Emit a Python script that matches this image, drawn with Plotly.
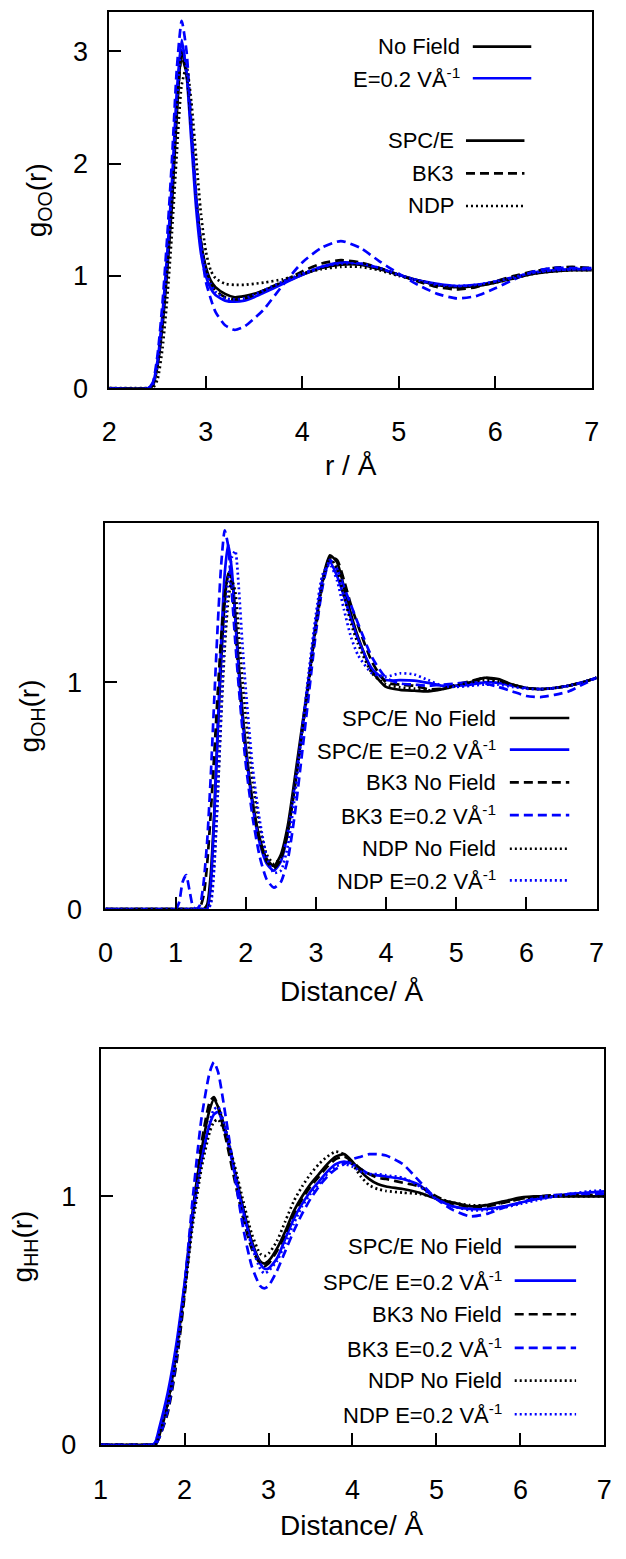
import plotly.graph_objects as go

W, H = 626, 1559

# ---------------- g_OO(r) ----------------
r_oo = [2.0, 2.4, 2.45, 2.5, 2.55, 2.6, 2.65, 2.7, 2.75, 2.8, 2.85, 2.9, 2.95, 3.0, 3.05, 3.1,
        3.2, 3.3, 3.4, 3.5, 3.6, 3.8, 4.0, 4.2, 4.4, 4.6, 4.8, 5.0, 5.2, 5.4, 5.6, 5.8, 6.0,
        6.2, 6.4, 6.6, 6.8, 7.0]
oo_spce_nf = [0, 0, 0.02, 0.2, 0.55, 1.05, 1.65, 2.45, 3.0, 2.8, 2.3, 1.7, 1.3, 1.08, 0.96, 0.9,
              0.84, 0.81, 0.82, 0.84, 0.87, 0.94, 1.01, 1.07, 1.10, 1.10, 1.06, 1.01, 0.96, 0.92,
              0.90, 0.91, 0.94, 0.98, 1.02, 1.04, 1.05, 1.05]
oo_spce_e = [0, 0, 0.04, 0.25, 0.65, 1.2, 1.85, 2.65, 3.1, 2.8, 2.2, 1.6, 1.2, 1.0, 0.89, 0.83,
             0.78, 0.77, 0.78, 0.81, 0.85, 0.93, 1.01, 1.08, 1.12, 1.11, 1.07, 1.01, 0.96, 0.93,
             0.91, 0.92, 0.95, 0.99, 1.03, 1.05, 1.06, 1.06]
oo_bk3_nf = [0, 0, 0.03, 0.22, 0.6, 1.1, 1.75, 2.5, 2.95, 2.8, 2.3, 1.7, 1.3, 1.06, 0.94, 0.87,
             0.81, 0.79, 0.8, 0.83, 0.87, 0.95, 1.04, 1.11, 1.14, 1.12, 1.07, 1.01, 0.95, 0.9,
             0.88, 0.9, 0.95, 1.0, 1.04, 1.07, 1.08, 1.07]
oo_bk3_e = [0, 0, 0.05, 0.3, 0.75, 1.35, 2.05, 2.85, 3.27, 3.0, 2.35, 1.7, 1.25, 0.95, 0.8, 0.68,
            0.56, 0.52, 0.55, 0.62, 0.7, 0.92, 1.12, 1.25, 1.31, 1.25, 1.13, 1.02, 0.92, 0.84,
            0.80, 0.82, 0.89, 0.97, 1.04, 1.07, 1.07, 1.07]
oo_ndp_nf = [0, 0, 0, 0.08, 0.35, 0.8, 1.4, 2.1, 2.7, 2.86, 2.55, 2.05, 1.55, 1.22, 1.05, 0.98,
             0.93, 0.92, 0.92, 0.93, 0.94, 0.97, 1.02, 1.06, 1.08, 1.08, 1.05, 1.0, 0.96, 0.92,
             0.90, 0.91, 0.94, 0.98, 1.02, 1.04, 1.05, 1.05]
oo_ndp_e = [0, 0, 0.03, 0.22, 0.6, 1.12, 1.78, 2.55, 3.05, 2.85, 2.3, 1.7, 1.28, 1.05, 0.93, 0.86,
            0.8, 0.79, 0.8, 0.83, 0.87, 0.95, 1.02, 1.08, 1.11, 1.11, 1.07, 1.01, 0.96, 0.92,
            0.91, 0.92, 0.95, 0.99, 1.03, 1.05, 1.06, 1.06]

# ---------------- g_OH(r) ----------------
r_oh = [0, 1.0, 1.05, 1.1, 1.15, 1.2, 1.25, 1.3, 1.35, 1.4, 1.45, 1.5, 1.55, 1.6, 1.65, 1.7, 1.75,
        1.8, 1.85, 1.9, 1.95, 2.0, 2.1, 2.2, 2.3, 2.4, 2.5, 2.6, 2.7, 2.8, 2.9, 3.0, 3.1, 3.2, 3.3,
        3.4, 3.5, 3.6, 3.8, 4.0, 4.2, 4.4, 4.6, 4.8, 5.0, 5.2, 5.4, 5.6, 5.8, 6.0, 6.2, 6.4, 6.6,
        6.8, 7.0]
oh_spce_nf = [0, 0, 0, 0, 0, 0, 0, 0, 0, 0,
              0.02, 0.15, 0.42, 0.78, 1.1, 1.35, 1.48, 1.46, 1.3, 1.08, 0.88, 0.72,
              0.47, 0.31, 0.22, 0.19, 0.24, 0.37, 0.58, 0.8, 1.02, 1.26, 1.46, 1.56, 1.53, 1.42, 1.3, 1.2,
              1.05, 0.98, 0.967, 0.963, 0.96, 0.97, 0.985, 1.0, 1.02, 1.015, 0.99, 0.975, 0.97, 0.975,
              0.985, 1.0, 1.02]
oh_spce_e = [0, 0, 0, 0, 0, 0, 0, 0, 0, 0,
             0, 0.1, 0.4, 0.8, 1.18, 1.48, 1.61, 1.5, 1.28, 1.05, 0.85, 0.7,
             0.45, 0.29, 0.2, 0.17, 0.21, 0.34, 0.55, 0.78, 1.02, 1.27, 1.46, 1.53, 1.47, 1.38, 1.28, 1.19,
             1.06, 1.01, 1.01, 1.008, 0.998, 0.985, 0.985, 0.99, 1.0, 0.998, 0.985, 0.975, 0.97, 0.975,
             0.985, 1.0, 1.02]
oh_bk3_nf = [0, 0, 0, 0, 0, 0, 0, 0,
             0.01, 0.06, 0.2, 0.42, 0.68, 0.95, 1.2, 1.38, 1.47, 1.42, 1.24, 1.03, 0.84, 0.68,
             0.45, 0.3, 0.21, 0.18, 0.22, 0.34, 0.54, 0.77, 1.0, 1.24, 1.44, 1.55, 1.54, 1.45, 1.34, 1.25,
             1.09, 1.0, 0.99, 0.985, 0.97, 0.972, 0.99, 1.005, 1.02, 1.01, 0.99, 0.975, 0.97, 0.975,
             0.985, 1.0, 1.02]
oh_bk3_e = [0, 0, 0.03, 0.12, 0.15, 0.08, 0.01, 0,
            0.02, 0.12, 0.3, 0.58, 0.92, 1.25, 1.52, 1.67, 1.6, 1.4, 1.18, 0.98, 0.8, 0.64,
            0.4, 0.23, 0.13, 0.095, 0.12, 0.22, 0.42, 0.68, 0.95, 1.22, 1.43, 1.54, 1.5, 1.42, 1.34, 1.26,
            1.11, 1.02, 0.995, 0.99, 0.985, 0.99, 0.995, 1.0, 0.995, 0.98, 0.96, 0.94, 0.935, 0.945,
            0.96, 0.99, 1.02]
oh_ndp_nf = [0, 0, 0, 0, 0, 0, 0, 0, 0, 0, 0,
             0.03, 0.2, 0.5, 0.85, 1.15, 1.36, 1.45, 1.4, 1.22, 1.02, 0.85,
             0.56, 0.36, 0.24, 0.2, 0.23, 0.35, 0.55, 0.78, 1.01, 1.25, 1.45, 1.55, 1.5, 1.38, 1.26, 1.17,
             1.04, 0.99, 0.978, 0.972, 0.965, 0.97, 0.985, 1.0, 1.01, 1.005, 0.99, 0.975, 0.97, 0.975,
             0.985, 1.0, 1.02]
oh_ndp_e = [0, 0, 0, 0, 0, 0, 0, 0, 0, 0, 0,
            0.02, 0.18, 0.5, 0.88, 1.22, 1.45, 1.55, 1.58, 1.42, 1.18, 0.97,
            0.62, 0.39, 0.23, 0.16, 0.17, 0.28, 0.5, 0.78, 1.05, 1.3, 1.48, 1.52, 1.45, 1.32, 1.2, 1.12,
            1.04, 1.025, 1.04, 1.035, 1.01, 0.985, 0.98, 0.985, 0.99, 0.99, 0.98, 0.972, 0.97, 0.975,
            0.985, 1.0, 1.02]

# ---------------- g_HH(r) ----------------
r_hh = [1.0, 1.6, 1.65, 1.7, 1.8, 1.9, 2.0, 2.1, 2.2, 2.3, 2.35, 2.4, 2.5, 2.6, 2.7, 2.8, 2.9, 2.95,
        3.0, 3.1, 3.2, 3.3, 3.4, 3.5, 3.6, 3.7, 3.8, 3.9, 4.0, 4.1, 4.2, 4.3, 4.4, 4.6, 4.8, 5.0,
        5.2, 5.4, 5.6, 5.8, 6.0, 6.2, 6.4, 6.6, 6.8, 7.0]
hh_spce_nf = [0, 0, 0.0, 0.04, 0.17, 0.37, 0.64, 0.95, 1.18, 1.35, 1.39, 1.36, 1.25, 1.1, 0.95, 0.82,
              0.74, 0.73, 0.74, 0.79, 0.86, 0.94, 1.0, 1.05, 1.09, 1.13, 1.16, 1.17, 1.14, 1.1, 1.07,
              1.05, 1.04, 1.03, 1.015, 0.99, 0.975, 0.96, 0.965, 0.98, 0.995, 1.0, 1.0, 1.0, 1.0, 1.0]
hh_spce_e = [0, 0, 0.01, 0.07, 0.21, 0.4, 0.65, 0.93, 1.14, 1.29, 1.33, 1.34, 1.24, 1.09, 0.94, 0.81,
             0.73, 0.71, 0.71, 0.75, 0.83, 0.91, 0.97, 1.02, 1.06, 1.1, 1.13, 1.14, 1.13, 1.11, 1.09,
             1.085, 1.08, 1.07, 1.045, 0.99, 0.96, 0.95, 0.95, 0.96, 0.975, 0.99, 1.0, 1.01, 1.015, 1.02]
hh_bk3_nf = [0, 0, 0, 0.03, 0.13, 0.32, 0.6, 0.94, 1.21, 1.38, 1.4, 1.36, 1.22, 1.06, 0.91, 0.79,
             0.73, 0.72, 0.73, 0.78, 0.85, 0.93, 0.99, 1.04, 1.08, 1.12, 1.15, 1.16, 1.14, 1.11, 1.09,
             1.075, 1.07, 1.055, 1.04, 1.0, 0.97, 0.96, 0.96, 0.975, 0.99, 1.0, 1.005, 1.005, 1.005, 1.005]
hh_bk3_e = [0, 0, 0, 0.03, 0.14, 0.34, 0.64, 1.0, 1.31, 1.5, 1.54, 1.5, 1.3, 1.08, 0.87, 0.72,
            0.64, 0.63, 0.64, 0.7, 0.78, 0.86, 0.93, 0.99, 1.04, 1.08, 1.11, 1.13, 1.15, 1.16, 1.17,
            1.17, 1.165, 1.13, 1.06, 0.99, 0.945, 0.92, 0.93, 0.955, 0.975, 0.995, 1.005, 1.01, 1.01, 1.01]
hh_ndp_nf = [0, 0, 0, 0.04, 0.16, 0.35, 0.61, 0.89, 1.11, 1.26, 1.3, 1.31, 1.24, 1.12, 0.98, 0.85,
             0.77, 0.76, 0.77, 0.82, 0.9, 0.98, 1.04, 1.09, 1.13, 1.16, 1.18, 1.17, 1.13, 1.08, 1.045,
             1.03, 1.022, 1.015, 1.01, 0.995, 0.975, 0.965, 0.965, 0.975, 0.99, 1.0, 1.0, 1.0, 1.0, 1.0]
hh_ndp_e = [0, 0, 0.01, 0.06, 0.19, 0.38, 0.63, 0.92, 1.14, 1.3, 1.35, 1.36, 1.26, 1.1, 0.93, 0.8,
            0.71, 0.69, 0.7, 0.74, 0.81, 0.89, 0.96, 1.01, 1.05, 1.09, 1.12, 1.13, 1.12, 1.1, 1.09,
            1.09, 1.085, 1.075, 1.04, 0.99, 0.96, 0.945, 0.945, 0.955, 0.97, 0.985, 1.0, 1.01, 1.02, 1.025]

BLACK = "#000000"
BLUE = "#0000ff"
DASH = "9px,5px"
DOT = "2px,3px"
LW = 2.7

fig = go.Figure()


def add(x, y, color, dash, xa, ya, name):
    fig.add_trace(go.Scatter(x=x, y=y, mode="lines", name=name, showlegend=False,
                             line=dict(color=color, width=LW, dash=dash, shape="spline", smoothing=0.6),
                             xaxis=xa, yaxis=ya))


add(r_oo, oo_spce_nf, BLACK, "solid", "x", "y", "SPC/E No Field")
add(r_oo, oo_spce_e, BLUE, "solid", "x", "y", "SPC/E E")
add(r_oo, oo_bk3_nf, BLACK, DASH, "x", "y", "BK3 No Field")
add(r_oo, oo_bk3_e, BLUE, DASH, "x", "y", "BK3 E")
add(r_oo, oo_ndp_nf, BLACK, DOT, "x", "y", "NDP No Field")
add(r_oo, oo_ndp_e, BLUE, DOT, "x", "y", "NDP E")

add(r_oh, oh_spce_nf, BLACK, "solid", "x2", "y2", "SPC/E No Field")
add(r_oh, oh_spce_e, BLUE, "solid", "x2", "y2", "SPC/E E")
add(r_oh, oh_bk3_nf, BLACK, DASH, "x2", "y2", "BK3 No Field")
add(r_oh, oh_bk3_e, BLUE, DASH, "x2", "y2", "BK3 E")
add(r_oh, oh_ndp_nf, BLACK, DOT, "x2", "y2", "NDP No Field")
add(r_oh, oh_ndp_e, BLUE, DOT, "x2", "y2", "NDP E")

add(r_hh, hh_spce_nf, BLACK, "solid", "x3", "y3", "SPC/E No Field")
add(r_hh, hh_spce_e, BLUE, "solid", "x3", "y3", "SPC/E E")
add(r_hh, hh_bk3_nf, BLACK, DASH, "x3", "y3", "BK3 No Field")
add(r_hh, hh_bk3_e, BLUE, DASH, "x3", "y3", "BK3 E")
add(r_hh, hh_ndp_nf, BLACK, DOT, "x3", "y3", "NDP No Field")
add(r_hh, hh_ndp_e, BLUE, DOT, "x3", "y3", "NDP E")

FONT = "Liberation Sans, Arial, sans-serif"
TICKF = dict(family=FONT, size=27, color="black")


def px(x):
    return x / W


def py(y):
    return 1 - y / H


def axis(domain, rng, tickvals, anchor, standoff):
    return dict(domain=domain, range=rng, tickvals=tickvals, anchor=anchor,
                ticks="inside", ticklen=12, tickwidth=2, tickcolor="black",
                showline=True, linewidth=2, linecolor="black", mirror=True,
                showgrid=False, zeroline=False, tickfont=TICKF,
                ticklabelstandoff=standoff)


layout = dict(
    width=W, height=H, margin=dict(l=0, r=0, t=0, b=0),
    paper_bgcolor="white", plot_bgcolor="white", showlegend=False,
    xaxis=axis([px(104), px(599)], [2, 7], [2, 3, 4, 5, 6, 7], "y", 18),
    yaxis=axis([py(392), py(12)], [0, 3.35], [0, 1, 2, 3], "x", 14),
    xaxis2=axis([px(100), px(604)], [0, 7], [0, 1, 2, 3, 4, 5, 6, 7], "y2", 18),
    yaxis2=axis([py(918), py(528)], [0, 1.703], [0, 1], "x2", 16),
    xaxis3=axis([px(95), px(612)], [1, 7], [1, 2, 3, 4, 5, 6, 7], "y3", 20),
    yaxis3=axis([py(1459), py(1059)], [0, 1.594], [0, 1], "x3", 17),
)
fig.update_layout(**layout)

TF = dict(family=FONT, size=28, color="black")
LF = dict(family=FONT, size=22, color="black")
ann = []
# axis titles
ann.append(dict(text="g<sub>OO</sub>(r)", x=px(31), y=py(202), textangle=-90, font=TF))
ann.append(dict(text="r / Å", x=px(352), y=py(470), font=TF))
ann.append(dict(text="g<sub>OH</sub>(r)", x=px(24), y=py(723), textangle=-90, font=TF))
ann.append(dict(text="Distance/ Å", x=px(352), y=py(1001), font=TF))
ann.append(dict(text="g<sub>HH</sub>(r)", x=px(17), y=py(1259), textangle=-90, font=TF))
ann.append(dict(text="Distance/ Å", x=px(352), y=py(1540), font=TF))
for a in ann:
    a.update(xref="paper", yref="paper", showarrow=False, xanchor="center", yanchor="middle")

shapes = []


def legend_row(text, ytxt, xr, x0, x1, color, dash):
    ann.append(dict(text=text, x=px(xr), y=py(ytxt), xref="paper", yref="paper", showarrow=False,
                    xanchor="right", yanchor="middle", font=LF))
    shapes.append(dict(type="line", xref="paper", yref="paper", x0=px(x0), x1=px(x1),
                       y0=py(ytxt), y1=py(ytxt), line=dict(color=color, width=LW, dash=dash)))


EF = "E=0.2 VÅ<sup>-1</sup>"
legend_row("No Field", 47, 466, 477, 537, BLACK, "solid")
legend_row(EF, 79, 466, 477, 537, BLUE, "solid")
legend_row("SPC/E", 142, 460, 470, 530, BLACK, "solid")
legend_row("BK3", 175, 460, 470, 530, BLACK, DASH)
legend_row("NDP", 208, 460, 470, 530, BLACK, DOT)

rows2 = [725, 757, 790, 823, 857, 889]
rows3 = [1259, 1293, 1327, 1361, 1394, 1428]
labels = ["SPC/E No Field", "SPC/E " + EF, "BK3 No Field", "BK3 " + EF, "NDP No Field", "NDP " + EF]
colors = [BLACK, BLUE, BLACK, BLUE, BLACK, BLUE]
dashes = ["solid", "solid", DASH, DASH, DOT, DOT]
for lab, yy, c, d in zip(labels, rows2, colors, dashes):
    legend_row(lab, yy, 503, 515, 576, c, d)
for lab, yy, c, d in zip(labels, rows3, colors, dashes):
    legend_row(lab, yy, 509, 520, 583, c, d)

fig.update_layout(annotations=ann, shapes=shapes)
fig.write_html("out.html")
